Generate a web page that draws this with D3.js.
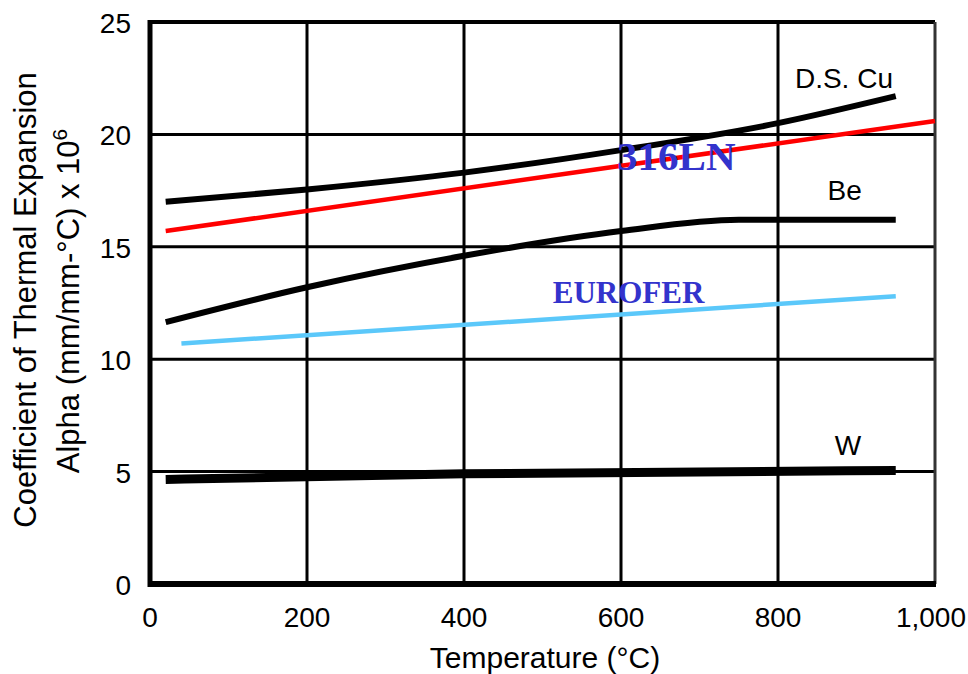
<!DOCTYPE html>
<html lang="en">
<head>
  <meta charset="UTF-8">
  <title>Thermal Expansion</title>
  <script src="https://cdn.jsdelivr.net/npm/d3@7"></script>
  <style>
    body { margin: 0; background: #fff; }
  </style>
</head>
<body>
  <svg width="968" height="674" id="chart"></svg>
  <script>
    // data (temperature in °C, alpha x 10^6)
    var xTicks = [0, 200, 400, 600, 800, 1000]
    var yTicks = [0, 5, 10, 15, 20, 25]
    var cuTemp = [20, 200, 400, 600, 800, 950]
    var cuAlpha = [17.0, 17.55, 18.3, 19.3, 20.5, 21.7]
    var beTemp = [20, 200, 400, 600, 750, 950]
    var beAlpha = [11.65, 13.2, 14.6, 15.7, 16.2, 16.2]
    var wTemp = [20, 400, 950]
    var wAlpha = [4.65, 4.9, 5.05]
    var ssTemp = [20, 1000]
    var ssAlpha = [15.7, 20.6]
    var euroTemp = [40, 950]
    var euroAlpha = [10.7, 12.8]

    var svg = d3.select("#chart")
    var xScale = d3.scaleLinear().domain([0, 1000]).range([150, 935])
    var yScale = d3.scaleLinear().domain([0, 25]).range([584, 22])
    var font = "Liberation Sans, Arial"

    // grid
    svg.append("g").selectAll("line.v")
      .data(xTicks.slice(1, 5))
      .enter().append("line")
      .attr("x1", function (d) { return xScale(d) }).attr("x2", function (d) { return xScale(d) })
      .attr("y1", yScale(25)).attr("y2", yScale(0))
      .style("stroke", "#000").style("stroke-width", 3)

    svg.append("g").selectAll("line.h")
      .data(yTicks.slice(1, 5))
      .enter().append("line")
      .attr("x1", xScale(0)).attr("x2", xScale(1000))
      .attr("y1", function (d) { return yScale(d) }).attr("y2", function (d) { return yScale(d) })
      .style("stroke", "#000").style("stroke-width", 3)

    // frame
    svg.append("line").attr("x1", xScale(0)).attr("x2", xScale(1000)).attr("y1", yScale(25)).attr("y2", yScale(25))
      .style("stroke", "#000").style("stroke-width", 4)
    svg.append("line").attr("x1", xScale(1000)).attr("x2", xScale(1000)).attr("y1", yScale(25)).attr("y2", yScale(0))
      .style("stroke", "#333").style("stroke-width", 3)
    svg.append("line").attr("x1", xScale(0)).attr("x2", xScale(0)).attr("y1", yScale(25) - 2).attr("y2", yScale(0) + 3)
      .style("stroke", "#000").style("stroke-width", 5)
    svg.append("line").attr("x1", xScale(0) - 2).attr("x2", xScale(1000) + 1).attr("y1", yScale(0)).attr("y2", yScale(0))
      .style("stroke", "#000").style("stroke-width", 6)

    // tick labels
    svg.append("g").selectAll("text")
      .data(yTicks)
      .enter().append("text")
      .attr("x", 131)
      .attr("y", function (d) { return yScale(d) + 11 })
      .attr("text-anchor", "end")
      .style("font-family", font)
      .style("font-size", "28px")
      .text(function (d) { return d })

    svg.append("g").selectAll("text")
      .data(xTicks)
      .enter().append("text")
      .attr("x", function (d) { return d == 1000 ? 966 : xScale(d) })
      .attr("y", 627)
      .attr("text-anchor", function (d) { return d == 1000 ? "end" : "middle" })
      .style("font-family", font)
      .style("font-size", "28px")
      .text(function (d) { return d3.format(",")(d) })

    // axis titles
    svg.append("text")
      .attr("x", 545).attr("y", 668)
      .attr("text-anchor", "middle")
      .style("font-family", font)
      .style("font-size", "30px")
      .text("Temperature (°C)")

    svg.append("text")
      .attr("transform", "translate(36,300)rotate(-90)")
      .attr("text-anchor", "middle")
      .style("font-family", font)
      .style("font-size", "31px")
      .text("Coefficient of Thermal Expansion")

    var alphaTitle = svg.append("text")
      .attr("transform", "translate(79,301)rotate(-90)")
      .attr("text-anchor", "middle")
      .style("font-family", font)
      .style("font-size", "31px")
    alphaTitle.append("tspan").text("Alpha (mm/mm-°C) x 10")
    alphaTitle.append("tspan").attr("dy", -12).style("font-size", "21px").text("6")

    // curves
    var line = d3.line()
      .x(function (d) { return xScale(d[0]) })
      .y(function (d) { return yScale(d[1]) })
      .curve(d3.curveMonotoneX)

    function zip(a, b) { return a.map(function (v, i) { return [v, b[i]] }) }

    var series = [
      { t: ssTemp, a: ssAlpha, color: "#ff0000", w: 4.5 },
      { t: euroTemp, a: euroAlpha, color: "#5bc8fa", w: 4.5 },
      { t: cuTemp, a: cuAlpha, color: "#000", w: 6 },
      { t: beTemp, a: beAlpha, color: "#000", w: 6 },
      { t: wTemp, a: wAlpha, color: "#000", w: 9 }
    ]

    svg.append("g").selectAll("path")
      .data(series)
      .enter().append("path")
      .attr("d", function (d) { return line(zip(d.t, d.a)) })
      .style("fill", "none")
      .style("stroke", function (d) { return d.color })
      .style("stroke-width", function (d) { return d.w })

    // curve labels
    var blackLabels = [
      { text: "D.S. Cu", x: 884, y: 22.06 },
      { text: "Be", x: 885, y: 17.08 },
      { text: "W", x: 889, y: 5.74 }
    ]
    svg.append("g").selectAll("text")
      .data(blackLabels)
      .enter().append("text")
      .attr("x", function (d) { return xScale(d.x) })
      .attr("y", function (d) { return yScale(d.y) })
      .attr("text-anchor", "middle")
      .style("font-family", font)
      .style("font-size", "28px")
      .text(function (d) { return d.text })

    svg.append("text")
      .attr("x", xScale(595)).attr("y", yScale(18.4))
      .style("font-family", "Liberation Serif, Times New Roman")
      .style("font-weight", "bold")
      .style("font-size", "41px")
      .style("fill", "#3333cc")
      .text("316LN")

    svg.append("text")
      .attr("x", xScale(513)).attr("y", yScale(12.5))
      .style("font-family", "Liberation Serif, Times New Roman")
      .style("font-weight", "bold")
      .style("font-size", "31px")
      .style("fill", "#3333cc")
      .text("EUROFER")
  </script>
</body>
</html>
